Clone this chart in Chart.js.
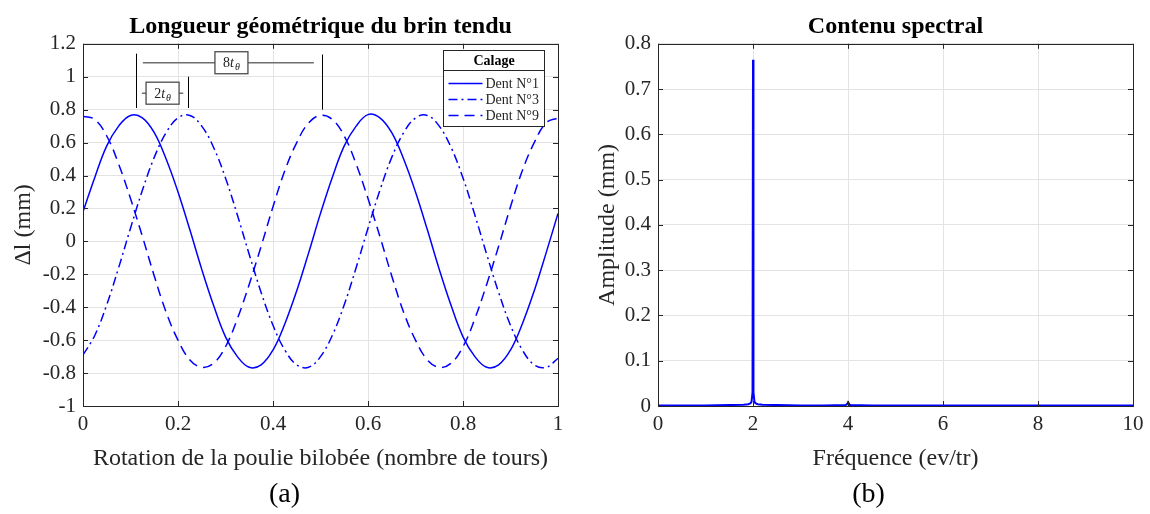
<!DOCTYPE html>
<html>
<head>
<meta charset="utf-8">
<script src="https://cdn.jsdelivr.net/npm/chart.js@4"></script>
<style>
  body { margin: 0; background: #fff; }
  #wrap { position: relative; width: 1150px; height: 514px; }
  .pane { position: absolute; top: 0; width: 575px; height: 514px; }
  .cap { position: absolute; top: 477px; width: 575px; text-align: center;
         font: 28px "Liberation Serif", serif; line-height: 32px; color: #000; }
</style>
</head>
<body>
<div id="wrap">
  <div class="pane" style="left:0"><canvas id="rotation"></canvas></div>
  <div class="pane" style="left:575px"><canvas id="spectre"></canvas></div>
  <div class="cap" style="left:-3px">(a)</div>
  <div class="cap" style="left:581px">(b)</div>
</div>
<script>
const tours = [0, 0.025, 0.05, 0.075, 0.1, 0.125, 0.15, 0.175, 0.2, 0.225,
  0.25, 0.275, 0.3, 0.325, 0.35, 0.375, 0.4, 0.425, 0.45, 0.475,
  0.5, 0.525, 0.55, 0.575, 0.6, 0.625, 0.65, 0.675, 0.7, 0.725,
  0.75, 0.775, 0.8, 0.825, 0.85, 0.875, 0.9, 0.925, 0.95, 0.975, 1];
const dent1 = [0.18, 0.39, 0.58, 0.70, 0.765, 0.75, 0.66, 0.50, 0.30, 0.07,
  -0.17, -0.39, -0.58, -0.70, -0.765, -0.75, -0.66, -0.50, -0.30, -0.07,
  0.17, 0.39, 0.58, 0.70, 0.77, 0.75, 0.66, 0.50, 0.30, 0.07,
  -0.17, -0.39, -0.58, -0.70, -0.765, -0.75, -0.66, -0.50, -0.30, -0.07, 0.17];
const dent3 = [-0.69, -0.57, -0.385, -0.16, 0.08, 0.31, 0.51, 0.66, 0.75, 0.765,
  0.70, 0.57, 0.385, 0.16, -0.08, -0.31, -0.51, -0.66, -0.75, -0.765,
  -0.70, -0.57, -0.385, -0.16, 0.08, 0.31, 0.51, 0.66, 0.75, 0.765,
  0.70, 0.57, 0.385, 0.16, -0.08, -0.31, -0.51, -0.66, -0.75, -0.765, -0.71];
const dent9 = [0.76, 0.74, 0.64, 0.47, 0.26, 0.03, -0.21, -0.43, -0.60, -0.72,
  -0.765, -0.74, -0.64, -0.47, -0.26, -0.03, 0.21, 0.43, 0.60, 0.72,
  0.765, 0.74, 0.64, 0.47, 0.26, 0.03, -0.21, -0.43, -0.60, -0.72,
  -0.765, -0.74, -0.64, -0.47, -0.26, -0.03, 0.21, 0.43, 0.60, 0.72, 0.75];
const nomsDents = ['Dent N°1', 'Dent N°3', 'Dent N°9'];

// repères 2tθ / 8tθ (en unités des axes)
const traitsVerticaux = [[0.112, 0.81, 1.14], [0.220, 0.81, 1.0], [0.503, 0.80, 1.135]];
const accolade8 = {y: 1.085, de: 0.126, a: 0.486, cx: 0.3125, texte: '8'};
const accolade2 = {y: 0.9, de: 0.124, a: 0.211, cx: 0.1675, texte: '2'};

// --- (b) spectre
const freq = [0, 0.5, 1, 1.5, 1.8, 1.9, 1.95, 1.97, 1.99, 2.0, 2.01, 2.03, 2.05, 2.1, 2.2,
  2.5, 3, 3.5, 3.95, 3.98, 4.0, 4.02, 4.05, 4.5, 5, 6, 7, 8, 9, 10];
const amplitude = [0.001, 0.001, 0.001, 0.002, 0.003, 0.004, 0.006, 0.010, 0.030, 0.765, 0.030, 0.010, 0.006, 0.004, 0.003,
  0.002, 0.001, 0.001, 0.002, 0.004, 0.008, 0.004, 0.002, 0.001, 0.001, 0.001, 0.001, 0.001, 0.001, 0.001];

const SERIF = '"Liberation Serif", "Times New Roman", serif';
const TEXTE = '#262626';
const BLEU = '#0000ff';

const pts = (xs, ys) => xs.map((v, i) => ({x: v, y: ys[i]}));
const fmt = v => String(Math.round(v * 10) / 10);

// cadre + petites graduations intérieures façon MATLAB
const cadre = {
  id: 'cadre',
  afterDraw(chart) {
    const {ctx, chartArea: a, scales: {x, y}} = chart;
    ctx.save();
    ctx.strokeStyle = TEXTE;
    ctx.lineWidth = 1;
    ctx.beginPath();
    x.ticks.forEach(t => {
      const px = Math.round(x.getPixelForValue(t.value)) + 0.5;
      ctx.moveTo(px, a.bottom); ctx.lineTo(px, a.bottom - 5);
      ctx.moveTo(px, a.top); ctx.lineTo(px, a.top + 5);
    });
    y.ticks.forEach(t => {
      const py = Math.round(y.getPixelForValue(t.value)) + 0.5;
      ctx.moveTo(a.left, py); ctx.lineTo(a.left + 5, py);
      ctx.moveTo(a.right, py); ctx.lineTo(a.right - 5, py);
    });
    ctx.stroke();
    ctx.strokeRect(Math.round(a.left) + 0.5, Math.round(a.top) + 0.5,
      Math.round(a.width), Math.round(a.height));
    ctx.restore();
  }
};

function boiteT(ctx, cx, cy, chiffre) {
  ctx.save();
  ctx.fillStyle = '#fff';
  ctx.strokeStyle = '#4d4d4d';
  ctx.lineWidth = 1.3;
  ctx.fillRect(cx - 16.5, cy - 11, 33, 22);
  ctx.strokeRect(cx - 16.5, cy - 11, 33, 22);
  ctx.fillStyle = '#222';
  ctx.textBaseline = 'alphabetic';
  ctx.font = '14px ' + SERIF;
  const w1 = ctx.measureText(chiffre).width;
  ctx.font = 'italic 14px ' + SERIF;
  const w2 = ctx.measureText('t').width;
  ctx.font = 'italic 10px ' + SERIF;
  const w3 = ctx.measureText('θ').width;
  let x0 = cx - (w1 + w2 + w3 + 1) / 2;
  const base = cy + 4.5;
  ctx.font = '14px ' + SERIF;
  ctx.fillText(chiffre, x0, base);
  x0 += w1;
  ctx.font = 'italic 14px ' + SERIF;
  ctx.fillText('t', x0, base);
  x0 += w2 + 1;
  ctx.font = 'italic 10px ' + SERIF;
  ctx.fillText('θ', x0, base + 3);
  ctx.restore();
}

const reperes = {
  id: 'reperes',
  afterDatasetsDraw(chart) {
    const {ctx, scales: {x, y}} = chart;
    ctx.save();
    ctx.strokeStyle = '#000';
    ctx.lineWidth = 1;
    ctx.beginPath();
    traitsVerticaux.forEach(([xv, y0, y1]) => {
      const px = Math.round(x.getPixelForValue(xv)) + 0.5;
      ctx.moveTo(px, y.getPixelForValue(y0));
      ctx.lineTo(px, y.getPixelForValue(y1));
    });
    ctx.stroke();
    ctx.strokeStyle = '#6e6e6e';
    ctx.lineWidth = 1.5;
    ctx.beginPath();
    [accolade8, accolade2].forEach(acc => {
      const py = y.getPixelForValue(acc.y);
      ctx.moveTo(x.getPixelForValue(acc.de), py);
      ctx.lineTo(x.getPixelForValue(acc.a), py);
    });
    ctx.stroke();
    [accolade8, accolade2].forEach(acc => {
      boiteT(ctx, x.getPixelForValue(acc.cx), y.getPixelForValue(acc.y), acc.texte);
    });
    ctx.restore();
  }
};

const legendeCalage = {
  id: 'legendeCalage',
  afterDraw(chart) {
    const {ctx, chartArea: a} = chart;
    const w = 101, h = 76;
    const left = Math.round(a.right - 14 - w) + 0.5, top = Math.round(a.top + 6) + 0.5;
    ctx.save();
    ctx.fillStyle = '#fff';
    ctx.fillRect(left, top, w, h);
    ctx.strokeStyle = TEXTE;
    ctx.lineWidth = 1;
    ctx.strokeRect(left, top, w, h);
    ctx.beginPath();
    ctx.moveTo(left, top + 20); ctx.lineTo(left + w, top + 20);
    ctx.stroke();
    ctx.fillStyle = '#000';
    ctx.textBaseline = 'middle';
    ctx.textAlign = 'center';
    ctx.font = 'bold 14px ' + SERIF;
    ctx.fillText('Calage', left + w / 2, top + 10.5);
    ctx.textAlign = 'left';
    chart.data.datasets.forEach((ds, i) => {
      const yy = Math.round(top + 32 + i * 16) + 0.5;
      ctx.strokeStyle = ds.borderColor;
      ctx.lineWidth = ds.borderWidth;
      ctx.setLineDash(ds.borderDash || []);
      ctx.beginPath();
      ctx.moveTo(left + 5, yy); ctx.lineTo(left + 39, yy);
      ctx.stroke();
      ctx.setLineDash([]);
      ctx.fillStyle = TEXTE;
      ctx.font = '14px ' + SERIF;
      ctx.fillText(ds.label, left + 42, yy + 1);
    });
    ctx.restore();
  }
};

function axes(xmin, xmax, xpas, ymin, ymax, ypas, titreX, titreY, padTitreY) {
  return {
    x: {
      type: 'linear', min: xmin, max: xmax,
      ticks: {stepSize: xpas, color: TEXTE, font: {family: SERIF, size: 21}, padding: 6,
              maxRotation: 0, callback: fmt},
      grid: {color: '#e3e3e3', drawTicks: false},
      border: {display: false},
      title: {display: true, text: titreX, color: TEXTE,
              font: {family: SERIF, size: 24}, padding: {top: 0, bottom: 0}},
      afterFit: s => { s.height = 67; }
    },
    y: {
      type: 'linear', min: ymin, max: ymax,
      ticks: {stepSize: ypas, color: TEXTE, font: {family: SERIF, size: 21}, padding: 7,
              callback: fmt},
      grid: {color: '#e3e3e3', drawTicks: false},
      border: {display: false},
      title: {display: true, text: titreY, color: TEXTE,
              font: {family: SERIF, size: 24}, padding: {top: padTitreY, bottom: 0}},
      afterFit: s => { s.width = 83; }
    }
  };
}

function titre(texte) {
  return {display: true, text: texte, color: '#000', fullSize: false,
          font: {family: SERIF, size: 24, weight: 'bold'}, padding: {top: 12, bottom: 3}};
}

new Chart(document.getElementById('rotation'), {
  type: 'line',
  data: {
    datasets: [
      {label: nomsDents[0], data: pts(tours, dent1), borderColor: BLEU, borderWidth: 1.5,
       pointRadius: 0, tension: 0.4},
      {label: nomsDents[1], data: pts(tours, dent3), borderColor: BLEU, borderWidth: 1.5,
       borderDash: [9, 4, 2, 4], pointRadius: 0, tension: 0.4},
      {label: nomsDents[2], data: pts(tours, dent9), borderColor: BLEU, borderWidth: 1.5,
       borderDash: [10, 6], pointRadius: 0, tension: 0.4}
    ]
  },
  options: {
    responsive: true, maintainAspectRatio: false, animation: false,
    layout: {padding: {left: 0, right: 17, top: 0, bottom: 41}},
    plugins: {legend: {display: false}, tooltip: {enabled: false},
              title: titre('Longueur géométrique du brin tendu')},
    scales: axes(0, 1, 0.2, -1, 1.2, 0.2, 'Rotation de la poulie bilobée (nombre de tours)', 'Δl (mm)', 9)
  },
  plugins: [reperes, cadre, legendeCalage]
});

new Chart(document.getElementById('spectre'), {
  type: 'line',
  data: {
    datasets: [
      {label: 'Amplitude', data: pts(freq, amplitude), borderColor: BLEU, borderWidth: 2,
       pointRadius: 0, tension: 0}
    ]
  },
  options: {
    responsive: true, maintainAspectRatio: false, animation: false,
    layout: {padding: {left: 0, right: 17, top: 0, bottom: 41}},
    plugins: {legend: {display: false}, tooltip: {enabled: false},
              title: titre('Contenu spectral')},
    scales: axes(0, 10, 2, 0, 0.8, 0.1, 'Fréquence (ev/tr)', 'Amplitude (mm)', 18)
  },
  plugins: [cadre]
});
</script>
</body>
</html>
